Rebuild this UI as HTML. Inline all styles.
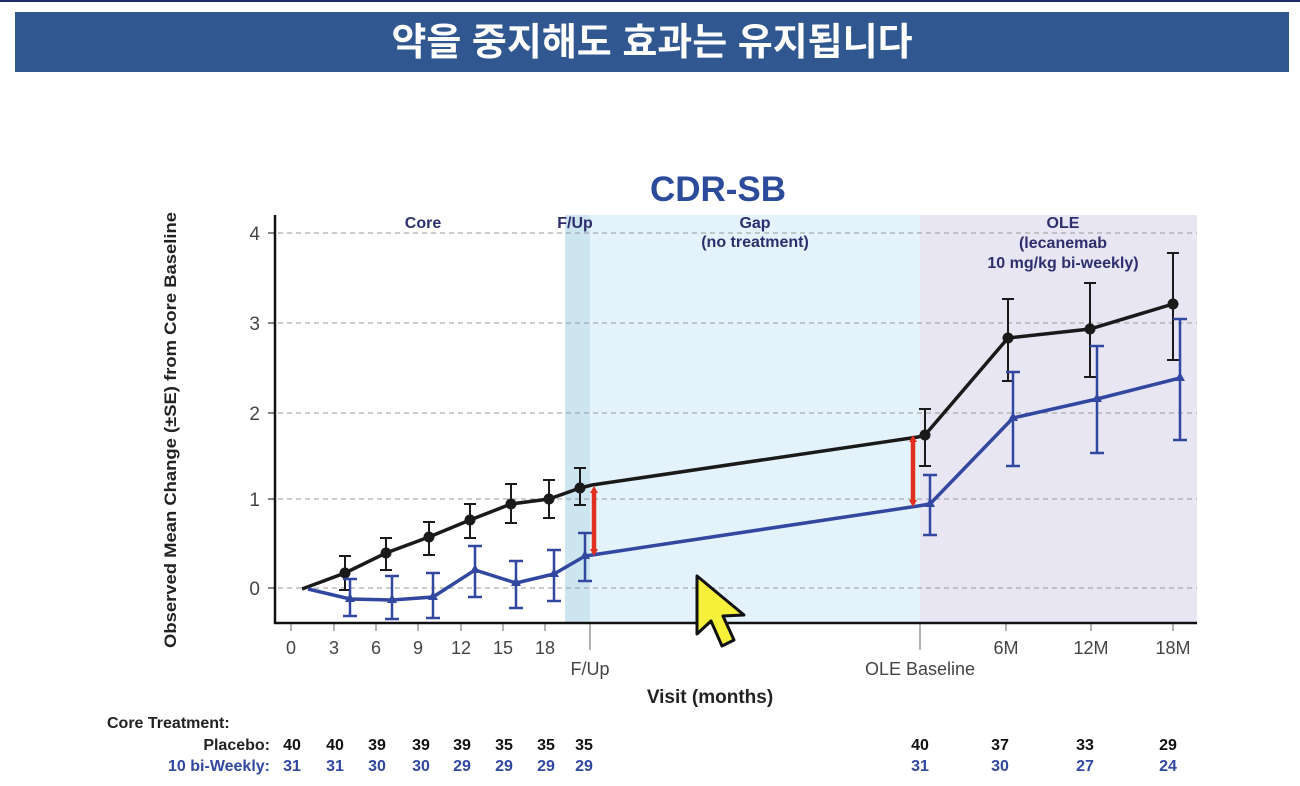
<!DOCTYPE html>
<html><head><meta charset="utf-8"><style>
html,body{margin:0;padding:0;background:#fff;width:1300px;height:786px;overflow:hidden}
svg{display:block}
text{font-family:"Liberation Sans",Arial,sans-serif}
</style></head><body>
<svg width="1300" height="786" viewBox="0 0 1300 786" xmlns="http://www.w3.org/2000/svg">
<rect x="0" y="0" width="1300" height="2" fill="#1e2d6a"/>
<rect x="15" y="12" width="1274" height="60" fill="#30578f"/>
<text x="652" y="55" text-anchor="middle" fill="#fff" font-size="38" font-weight="bold" style='font-family:"Liberation Sans","Noto Sans CJK KR",sans-serif'>약을 중지해도 효과는 유지됩니다</text>
<text x="718" y="201" text-anchor="middle" fill="#2c4b9b" font-size="35" font-weight="bold">CDR-SB</text>
<rect x="590" y="215" width="330" height="408" fill="#e4f2fb"/>
<rect x="565" y="215" width="25" height="408" fill="#cce5ee"/>
<rect x="920" y="215" width="277" height="408" fill="#e8e6f3"/>
<g stroke="#999" stroke-width="1" stroke-dasharray="5,4">
<line x1="278" y1="233" x2="1197" y2="233"/>
<line x1="278" y1="323" x2="1197" y2="323"/>
<line x1="278" y1="413" x2="1197" y2="413"/>
<line x1="278" y1="499" x2="1197" y2="499"/>
<line x1="278" y1="588" x2="1197" y2="588"/>
</g>
<line x1="275" y1="215" x2="275" y2="624" stroke="#111" stroke-width="2.5"/>
<line x1="274" y1="623" x2="1197" y2="623" stroke="#111" stroke-width="2.5"/>
<g stroke="#111" stroke-width="1">
<line x1="268" y1="233" x2="275" y2="233"/><line x1="268" y1="323" x2="275" y2="323"/><line x1="268" y1="413" x2="275" y2="413"/><line x1="268" y1="499" x2="275" y2="499"/><line x1="268" y1="588" x2="275" y2="588"/>
</g>
<g stroke="#666" stroke-width="1">
<line x1="291" y1="624" x2="291" y2="631"/><line x1="334" y1="624" x2="334" y2="631"/><line x1="376" y1="624" x2="376" y2="631"/><line x1="418" y1="624" x2="418" y2="631"/><line x1="461" y1="624" x2="461" y2="631"/><line x1="503" y1="624" x2="503" y2="631"/><line x1="545" y1="624" x2="545" y2="631"/><line x1="590" y1="624" x2="590" y2="650"/><line x1="920" y1="624" x2="920" y2="650"/><line x1="1006" y1="624" x2="1006" y2="631"/><line x1="1091" y1="624" x2="1091" y2="631"/><line x1="1173" y1="624" x2="1173" y2="631"/>
</g>
<g fill="#444" font-size="19">
<text x="260" y="240" text-anchor="end">4</text><text x="260" y="330" text-anchor="end">3</text><text x="260" y="420" text-anchor="end">2</text><text x="260" y="506" text-anchor="end">1</text><text x="260" y="595" text-anchor="end">0</text>
</g>
<g fill="#444" font-size="18" text-anchor="middle">
<text x="291" y="654">0</text><text x="334" y="654">3</text><text x="376" y="654">6</text><text x="418" y="654">9</text><text x="461" y="654">12</text><text x="503" y="654">15</text><text x="545" y="654">18</text>
<text x="1006" y="654">6M</text><text x="1091" y="654">12M</text><text x="1173" y="654">18M</text>
<text x="590" y="675">F/Up</text><text x="920" y="675">OLE Baseline</text>
</g>
<text x="710" y="703" text-anchor="middle" font-size="19" font-weight="bold" fill="#222">Visit (months)</text>
<text transform="translate(176,430) rotate(-90)" text-anchor="middle" font-size="16.5" font-weight="bold" fill="#222" textLength="436" lengthAdjust="spacingAndGlyphs">Observed Mean Change (±SE) from Core Baseline</text>
<g fill="#2e2e6e" font-size="16" font-weight="bold" text-anchor="middle">
<text x="423" y="228">Core</text><text x="575" y="228">F/Up</text>
<text x="755" y="228">Gap</text><text x="755" y="247">(no treatment)</text>
<text x="1063" y="228">OLE</text><text x="1063" y="248">(lecanemab</text><text x="1063" y="268">10 mg/kg bi-weekly)</text>
</g>
<g stroke="#1a1a1a" stroke-width="2" fill="none">
<path d="M345 556V590M339 556H351M339 590H351M386 538V570M380 538H392M380 570H392M429 522V555M423 522H435M423 555H435M470 504V538M464 504H476M464 538H476M511 484V523M505 484H517M505 523H517M549 480V518M543 480H555M543 518H555M580 468V505M574 468H586M574 505H586M925 409V466M919 409H931M919 466H931M1008 299V381M1002 299H1014M1002 381H1014M1090 283V377M1084 283H1096M1084 377H1096M1173 253V360M1167 253H1179M1167 360H1179"/>
</g>
<polyline points="302,589 345,573 386,553 429,537 470,520 511,504 549,499 580,488 592,485 918,437 925,435 1008,338 1090,329 1173,304" fill="none" stroke="#1a1a1a" stroke-width="3.5"/>
<g fill="#1a1a1a">
<circle cx="345" cy="573" r="5.5"/><circle cx="386" cy="553" r="5.5"/><circle cx="429" cy="537" r="5.5"/><circle cx="470" cy="520" r="5.5"/><circle cx="511" cy="504" r="5.5"/><circle cx="549" cy="499" r="5.5"/><circle cx="580" cy="488" r="5.5"/><circle cx="925" cy="435" r="5.5"/><circle cx="1008" cy="338" r="5.5"/><circle cx="1090" cy="329" r="5.5"/><circle cx="1173" cy="304" r="5.5"/>
</g>
<g stroke="#3147a0" stroke-width="2.5" fill="none">
<path d="M350 579V616M343 579H357M343 616H357M392 576V619M385 576H399M385 619H399M433 573V618M426 573H440M426 618H440M475 546V597M468 546H482M468 597H482M516 561V608M509 561H523M509 608H523M554 550V601M547 550H561M547 601H561M585 533V581M578 533H592M578 581H592M930 475V535M923 475H937M923 535H937M1013 372V466M1006 372H1020M1006 466H1020M1097 346V453M1090 346H1104M1090 453H1104M1180 319V440M1173 319H1187M1173 440H1187"/>
</g>
<polyline points="308,589 350,599 392,600 433,597 475,570 516,583 554,574 585,556 592,555 918,506 930,504 1013,418 1097,399 1180,378" fill="none" stroke="#3147a0" stroke-width="3.5"/>
<g fill="#3147a0">
<path d="M350 593l5 9h-10z"/><path d="M392 594l5 9h-10z"/><path d="M433 591l5 9h-10z"/><path d="M475 564l5 9h-10z"/><path d="M516 577l5 9h-10z"/><path d="M554 568l5 9h-10z"/><path d="M585 550l5 9h-10z"/><path d="M930 498l5 9h-10z"/><path d="M1013 412l5 9h-10z"/><path d="M1097 393l5 9h-10z"/><path d="M1180 372l5 9h-10z"/>
</g>
<g stroke="#e03020" stroke-width="4.5"><line x1="594" y1="492" x2="594" y2="553"/><line x1="913" y1="440" x2="913" y2="503"/></g>
<g fill="#e03020"><path d="M594 486l4 7h-8z"/><path d="M594 556l4 -7h-8z"/><path d="M913 435l4 7h-8z"/><path d="M913 507l4 -7h-8z"/></g>
<path d="M697 576 L697 634 L711 621 L722 646 L734 640 L723 616 L744 615 Z" fill="#f5f03a" stroke="#111" stroke-width="3" stroke-linejoin="round"/>
<g font-size="16" font-weight="bold" fill="#222">
<text x="107" y="728">Core Treatment:</text>
<text x="270" y="750" text-anchor="end">Placebo:</text>
</g>
<text x="270" y="771" text-anchor="end" font-size="16" font-weight="bold" fill="#3147a0">10 bi-Weekly:</text>
<g font-size="16" font-weight="bold" fill="#111" text-anchor="middle">
<text x="292" y="750">40</text><text x="335" y="750">40</text><text x="377" y="750">39</text><text x="421" y="750">39</text><text x="462" y="750">39</text><text x="504" y="750">35</text><text x="546" y="750">35</text><text x="584" y="750">35</text>
<text x="920" y="750">40</text><text x="1000" y="750">37</text><text x="1085" y="750">33</text><text x="1168" y="750">29</text>
</g>
<g font-size="16" font-weight="bold" fill="#3147a0" text-anchor="middle">
<text x="292" y="771">31</text><text x="335" y="771">31</text><text x="377" y="771">30</text><text x="421" y="771">30</text><text x="462" y="771">29</text><text x="504" y="771">29</text><text x="546" y="771">29</text><text x="584" y="771">29</text>
<text x="920" y="771">31</text><text x="1000" y="771">30</text><text x="1085" y="771">27</text><text x="1168" y="771">24</text>
</g>
</svg>
</body></html>
